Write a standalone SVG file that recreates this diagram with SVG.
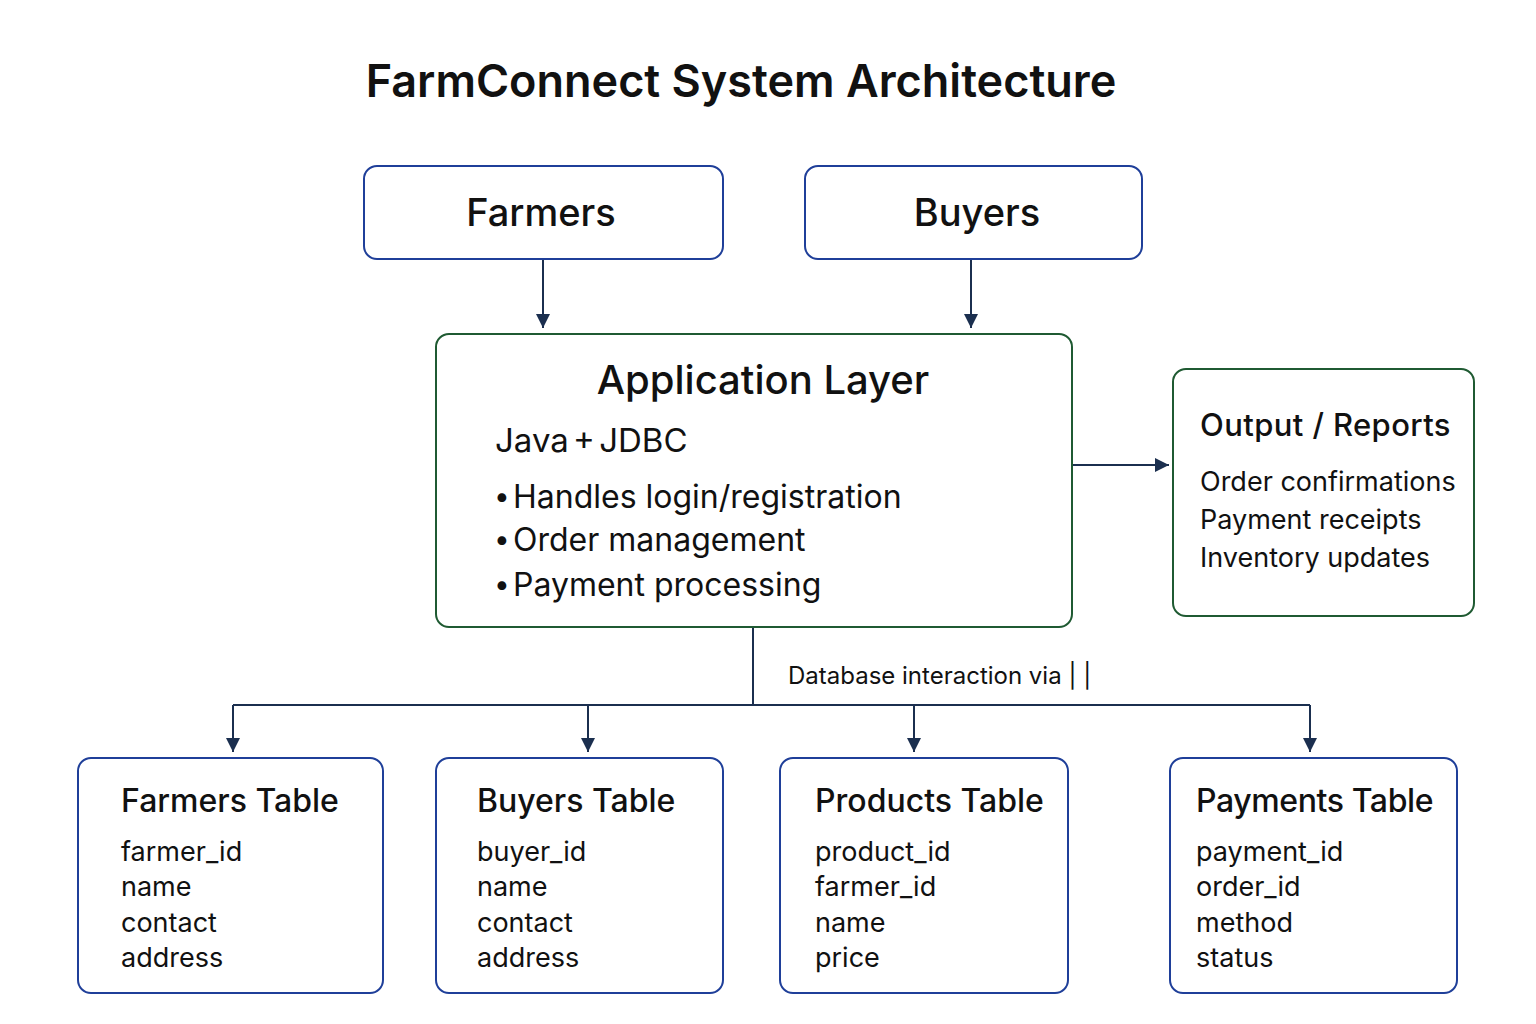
<svg xmlns="http://www.w3.org/2000/svg" width="1536" height="1024" viewBox="0 0 1536 1024">
<defs>
<marker id="ahd" viewBox="0 0 14 14" refX="14" refY="7" markerWidth="14" markerHeight="14" markerUnits="userSpaceOnUse" orient="auto">
<path d="M0,0 L14,7 L0,14 z" fill="#1b2f4f"/>
</marker>
</defs>
<style>
text{font-family:Inter,"Noto Sans","Liberation Sans",sans-serif;fill:#111}
.blue{fill:#fff;stroke:#1f3f99;stroke-width:2}
.green{fill:#fff;stroke:#1f5a32;stroke-width:2}
.conn{fill:none;stroke:#1b2f4f;stroke-width:2}
.title{font-size:45px;font-weight:600;text-anchor:middle}
.top{font-size:38px;font-weight:500;text-anchor:middle}
.th{font-size:32px;font-weight:500}
.tf{font-size:27px}
.bl{font-size:32px}
.bu{font-size:28px}
</style>
<rect width="1536" height="1024" fill="#fff"/>
<text class="title" x="741" y="97">FarmConnect System Architecture</text>

<g id="connectors">
<line class="conn" x1="543" y1="260" x2="543" y2="328" marker-end="url(#ahd)"/>
<line class="conn" x1="971" y1="260" x2="971" y2="328" marker-end="url(#ahd)"/>
<line class="conn" x1="1073" y1="465" x2="1169" y2="465" marker-end="url(#ahd)"/>
<polyline class="conn" points="753,628 753,705"/>
<polyline class="conn" points="233,705 1310,705"/>
<line class="conn" x1="233" y1="705" x2="233" y2="752" marker-end="url(#ahd)"/>
<line class="conn" x1="588" y1="705" x2="588" y2="752" marker-end="url(#ahd)"/>
<line class="conn" x1="914" y1="705" x2="914" y2="752" marker-end="url(#ahd)"/>
<line class="conn" x1="1310" y1="705" x2="1310" y2="752" marker-end="url(#ahd)"/>
<text x="788" y="684" font-size="24">Database interaction via | |</text>
</g>

<g id="farmers">
<rect class="blue" x="364" y="166" width="359" height="93" rx="13"/>
<text class="top" x="541" y="226">Farmers</text>
</g>
<g id="buyers">
<rect class="blue" x="805" y="166" width="337" height="93" rx="13"/>
<text class="top" x="977" y="226">Buyers</text>
</g>

<g id="application-layer">
<rect class="green" x="436" y="334" width="636" height="293" rx="13"/>
<text x="763" y="394" font-size="40" font-weight="500" text-anchor="middle">Application Layer</text>
<text x="495" y="452" font-size="33" word-spacing="-5">Java + JDBC</text>
<text class="bu" x="494" y="506">•</text>
<text class="bl" x="513" y="508">Handles login/registration</text>
<text class="bu" x="494" y="549">•</text>
<text class="bl" x="513" y="551">Order management</text>
<text class="bu" x="494" y="594">•</text>
<text class="bl" x="513" y="596">Payment processing</text>
</g>

<g id="output-reports">
<rect class="green" x="1173" y="369" width="301" height="247" rx="13"/>
<text x="1200" y="436" font-size="31" font-weight="500" letter-spacing="0.4">Output / Reports</text>
<text x="1200" y="491" font-size="27">Order confirmations</text>
<text x="1200" y="529" font-size="27">Payment receipts</text>
<text x="1200" y="567" font-size="27">Inventory updates</text>
</g>

<g id="farmers-table">
<rect class="blue" x="78" y="758" width="305" height="235" rx="13"/>
<text class="th" x="121" y="812">Farmers Table</text>
<text class="tf" x="121" y="861">farmer_id</text>
<text class="tf" x="121" y="896">name</text>
<text class="tf" x="121" y="932">contact</text>
<text class="tf" x="121" y="967">address</text>
</g>
<g id="buyers-table">
<rect class="blue" x="436" y="758" width="287" height="235" rx="13"/>
<text class="th" x="477" y="812">Buyers Table</text>
<text class="tf" x="477" y="861">buyer_id</text>
<text class="tf" x="477" y="896">name</text>
<text class="tf" x="477" y="932">contact</text>
<text class="tf" x="477" y="967">address</text>
</g>
<g id="products-table">
<rect class="blue" x="780" y="758" width="288" height="235" rx="13"/>
<text class="th" x="815" y="812">Products Table</text>
<text class="tf" x="815" y="861">product_id</text>
<text class="tf" x="815" y="896">farmer_id</text>
<text class="tf" x="815" y="932">name</text>
<text class="tf" x="815" y="967">price</text>
</g>
<g id="payments-table">
<rect class="blue" x="1170" y="758" width="287" height="235" rx="13"/>
<text class="th" x="1196" y="812" letter-spacing="-0.4">Payments Table</text>
<text class="tf" x="1196" y="861">payment_id</text>
<text class="tf" x="1196" y="896">order_id</text>
<text class="tf" x="1196" y="932">method</text>
<text class="tf" x="1196" y="967">status</text>
</g>
</svg>
